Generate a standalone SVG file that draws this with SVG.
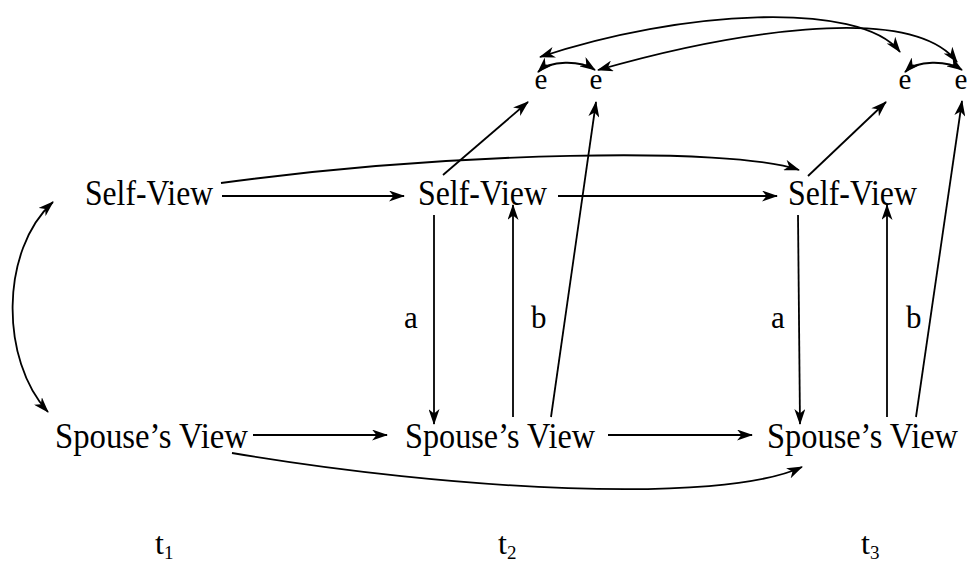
<svg xmlns="http://www.w3.org/2000/svg" width="973" height="566" viewBox="0 0 973 566">
<style>
text{font-family:"Liberation Serif","Times New Roman",serif;fill:#000}
.n{font-size:35px}
.e{font-size:29px}
.l{font-size:31px}
.t{font-size:32px}
.s{font-size:19px}
.c{fill:none;stroke:#000;stroke-width:1.8}
</style>
<defs>
<marker id="ah" viewBox="0 0 16 11" refX="15" refY="5.5" markerWidth="16" markerHeight="11" markerUnits="userSpaceOnUse" orient="auto-start-reverse">
<path d="M0,0 L16,5.5 L0,11 L4.5,5.5 z" fill="#000"/>
</marker>
</defs>
<rect width="973" height="566" fill="#fff"/>
<g id="self1"><text class="n" x="85" y="205" textLength="128" lengthAdjust="spacingAndGlyphs">Self-View</text></g>
<g id="self2"><text class="n" x="418" y="205" textLength="129" lengthAdjust="spacingAndGlyphs">Self-View</text></g>
<g id="self3"><text class="n" x="788" y="205" textLength="129" lengthAdjust="spacingAndGlyphs">Self-View</text></g>
<g id="spouse1"><text class="n" x="55" y="448" textLength="193" lengthAdjust="spacingAndGlyphs">Spouse’s View</text></g>
<g id="spouse2"><text class="n" x="405" y="448" textLength="190" lengthAdjust="spacingAndGlyphs">Spouse’s View</text></g>
<g id="spouse3"><text class="n" x="767" y="448" textLength="191" lengthAdjust="spacingAndGlyphs">Spouse’s View</text></g>
<g id="e1"><text class="e" x="541" y="89" text-anchor="middle">e</text></g>
<g id="e2"><text class="e" x="596" y="89" text-anchor="middle">e</text></g>
<g id="e3"><text class="e" x="905" y="89" text-anchor="middle">e</text></g>
<g id="e4"><text class="e" x="961" y="89" text-anchor="middle">e</text></g>
<g id="labels">
<text class="l" x="404" y="328">a</text>
<text class="l" x="531" y="328">b</text>
<text class="l" x="771" y="328">a</text>
<text class="l" x="906" y="328">b</text>
</g>
<g id="times">
<text class="t" x="155" y="554">t<tspan class="s" dy="5">1</tspan></text>
<text class="t" x="498" y="554">t<tspan class="s" dy="5">2</tspan></text>
<text class="t" x="861" y="554">t<tspan class="s" dy="5">3</tspan></text>
</g>
<g id="connectors">
<path class="c" d="M222 196 H404" marker-end="url(#ah)"/>
<path class="c" d="M558 196 H777" marker-end="url(#ah)"/>
<path class="c" d="M253 435 H387" marker-end="url(#ah)"/>
<path class="c" d="M608 435 H752" marker-end="url(#ah)"/>
<path class="c" d="M221 183 C450 152 730 146 799 170" marker-end="url(#ah)"/>
<path class="c" d="M232 453 C450 490 720 505 802 467" marker-end="url(#ah)"/>
<path class="c" d="M434 215 V424" marker-end="url(#ah)"/>
<path class="c" d="M798 215 L800 424" marker-end="url(#ah)"/>
<path class="c" d="M513 417 V205" marker-end="url(#ah)"/>
<path class="c" d="M887 417 V205" marker-end="url(#ah)"/>
<path class="c" d="M443 175 L528 102" marker-end="url(#ah)"/>
<path class="c" d="M551 417 L596 102" marker-end="url(#ah)"/>
<path class="c" d="M808 176 L886 102" marker-end="url(#ah)"/>
<path class="c" d="M916 417 L962 101" marker-end="url(#ah)"/>
<path class="c" d="M538 72 C550 60 580 60 595 70" marker-start="url(#ah)" marker-end="url(#ah)"/>
<path class="c" d="M905 72 C917 60 947 60 962 70" marker-start="url(#ah)" marker-end="url(#ah)"/>
<path class="c" d="M540 57 C680 10 860 0 900 52" marker-start="url(#ah)" marker-end="url(#ah)"/>
<path class="c" d="M598 70 C720 35 910 0 957 62" marker-start="url(#ah)" marker-end="url(#ah)"/>
<path class="c" d="M53 202 C0 250 0 360 48 412" marker-start="url(#ah)" marker-end="url(#ah)"/>
</g>
</svg>
